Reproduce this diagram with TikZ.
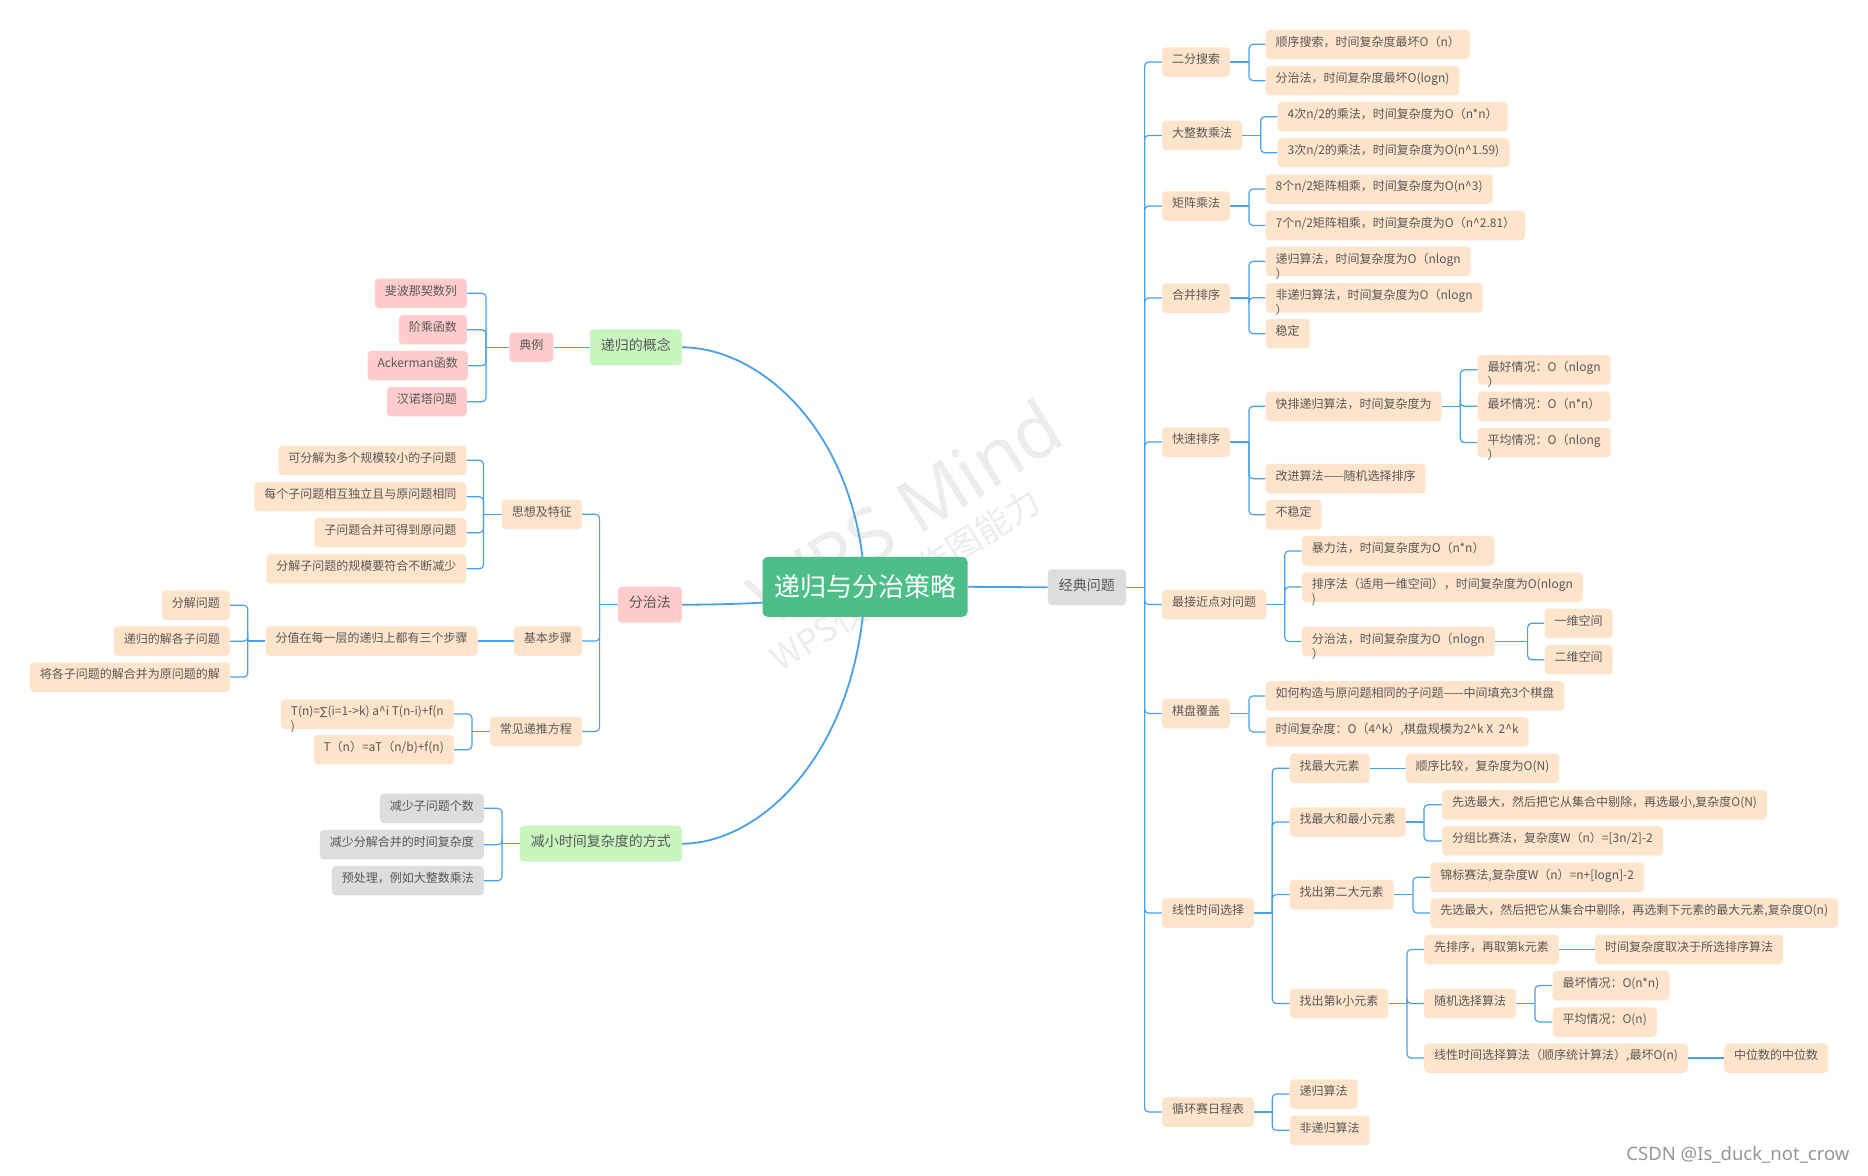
\documentclass[tikz,border=0pt]{standalone}
\usepackage{fontspec}
\newfontfamily\cjk{Noto Sans CJK SC}
\newfontfamily\wmfont{Noto Sans}
\newfontfamily\djv{DejaVu Sans}
\usetikzlibrary{calc,backgrounds}
\definecolor{peach}{RGB}{255,228,204}
\definecolor{pinkb}{RGB}{255,204,204}
\definecolor{greenb}{RGB}{200,246,190}
\definecolor{grayb}{RGB}{221,221,221}
\definecolor{rootg}{RGB}{77,190,135}
\definecolor{txt}{RGB}{88,88,88}
\definecolor{lblue}{RGB}{74,160,230}
\definecolor{wmc}{RGB}{236,236,236}
\definecolor{csdnc}{RGB}{150,150,150}
\newcommand\crt{\textasciicircum}
\newcommand\clp[1]{\smash{\rlap{\raisebox{-15pt}{#1}}}}
\newcommand\brR[3]{%
  \draw[br] (#1.east) -- (#2 |- #1.east);
  \foreach \kid in {#3}{\draw[br,rounded corners=4pt] (#2 |- #1.east) -- (#2 |- \kid.west) -- (\kid.west);}}
\newcommand\brL[3]{%
  \draw[br] (#1.west) -- (#2 |- #1.west);
  \foreach \kid in {#3}{\draw[br,rounded corners=4pt] (#2 |- #1.west) -- (#2 |- \kid.east) -- (\kid.east);}}
\tikzset{
  box/.style={rectangle, rounded corners=4pt, text=txt, font=\cjk\fontsize{12}{14}\selectfont,
    inner xsep=10pt, inner ysep=7.65pt, text height=9pt, text depth=5.2pt},
  pk/.style={box, fill=peach},
  pn/.style={box, fill=pinkb},
  gy/.style={box, fill=grayb},
  main/.style={box, font=\cjk\fontsize{14}{16}\selectfont, inner xsep=11pt, inner ysep=10.75pt,
    text height=10.5pt, text depth=4pt},
  rootbox/.style={rectangle, rounded corners=5pt, fill=rootg, text=white,
    font=\cjk\fontsize{26}{28}\selectfont, minimum width=205pt, minimum height=60pt, inner sep=0pt},
  br/.style={draw=lblue, line width=1.2pt},
  mline/.style={draw=lblue, line width=1.8pt},
}
\begin{document}
\begin{tikzpicture}[x=1pt,y=-1pt]
\useasboundingbox (0,0) rectangle (1868,1175);

% root
\node[rootbox] (root) at (865,586.8) {递归与分治策略};

% ---------- left side ----------
\node[main, fill=greenb, anchor=east] (l1) at (682,347.3) {递归的概念};
\node[main, fill=pinkb, anchor=east] (l2) at (682,604.7) {分治法};
\node[main, fill=greenb, anchor=east] (l3) at (682,843.7) {减小时间复杂度的方式};

\node[pn, anchor=east] (l1a) at (553.6,347.3) {典例};
\node[pn, anchor=east] (l1a1) at (467,293.3) {斐波那契数列};
\node[pn, anchor=east] (l1a2) at (467,329.7) {阶乘函数};
\node[pn, anchor=east] (l1a3) at (468,365.7) {Ackerman函数};
\node[pn, anchor=east] (l1a4) at (467,401.7) {汉诺塔问题};

\node[pk, anchor=east] (l2a) at (582,514.3) {思想及特征};
\node[pk, anchor=east] (l2a1) at (466.5,460.3) {可分解为多个规模较小的子问题};
\node[pk, anchor=east] (l2a2) at (466.5,496.7) {每个子问题相互独立且与原问题相同};
\node[pk, anchor=east] (l2a3) at (466.5,532.7) {子问题合并可得到原问题};
\node[pk, anchor=east] (l2a4) at (466.5,568.8) {分解子问题的规模要符合不断减少};

\node[pk, anchor=east] (l2b) at (582,641) {基本步骤};
\node[pk, anchor=east] (l2b1) at (477.7,641) {分值在每一层的递归上都有三个步骤};
\node[pk, anchor=east] (l2b1a) at (230,605.2) {分解问题};
\node[pk, anchor=east] (l2b1b) at (230,641.2) {递归的解各子问题};
\node[pk, anchor=east] (l2b1c) at (230,677) {将各子问题的解合并为原问题的解};

\node[pk, anchor=east] (l2c) at (582,731.5) {常见递推方程};
\node[pk, anchor=east] (l2c1) at (454,714) {\clp{)}T(n)={\djv\fontsize{11}{13}\selectfont ∑}(i=1->k) a\crt i T(n-i)+f(n};
\node[pk, anchor=east] (l2c2) at (454,749.7) {T（n）=aT（n/b)+f(n)};

\node[gy, anchor=east] (l3a) at (484,808.3) {减少子问题个数};
\node[gy, anchor=east] (l3b) at (484,844.7) {减少分解合并的时间复杂度};
\node[gy, anchor=east] (l3c) at (484,880.7) {预处理，例如大整数乘法};

% ---------- right side ----------
\node[main, fill=grayb, anchor=west] (r0) at (1047.7,587.3) {经典问题};
\node[pk,anchor=west] (r1) at (1161.8,62) {二分搜索};
\node[pk,anchor=west] (r2) at (1161.8,135.4) {大整数乘法};
\node[pk,anchor=west] (r3) at (1161.8,206) {矩阵乘法};
\node[pk,anchor=west] (r4) at (1161.8,298) {合并排序};
\node[pk,anchor=west] (r5) at (1161.8,442) {快速排序};
\node[pk,anchor=west] (r6) at (1161.8,604.5) {最接近点对问题};
\node[pk,anchor=west] (r7) at (1161.8,713.5) {棋盘覆盖};
\node[pk,anchor=west] (r8) at (1161.8,913) {线性时间选择};
\node[pk,anchor=west] (r9) at (1161.8,1112) {循环赛日程表};

\node[pk,anchor=west] (r1a) at (1265.4,44.3) {顺序搜索，时间复杂度最坏O（n）};
\node[pk,anchor=west] (r1b) at (1265.4,80.7) {分治法，时间复杂度最坏O(logn)};
\node[pk,anchor=west] (r2a) at (1277.4,116.7) {4次n/2的乘法，时间复杂度为O（n*n）};
\node[pk,anchor=west] (r2b) at (1277.4,152.7) {3次n/2的乘法，时间复杂度为O(n\crt 1.59)};
\node[pk,anchor=west] (r3a) at (1265.4,189) {8个n/2矩阵相乘，时间复杂度为O(n\crt 3)};
\node[pk,anchor=west] (r3b) at (1265.4,225.5) {7个n/2矩阵相乘，时间复杂度为O（n\crt 2.81）};
\node[pk,anchor=west] (r4a) at (1265.4,261.3) {\clp{）}递归算法，时间复杂度为O（nlogn};
\node[pk,anchor=west] (r4b) at (1265.4,297.8) {\clp{）}非递归算法，时间复杂度为O（nlogn};
\node[pk,anchor=west] (r4c) at (1265.4,333.7) {稳定};
\node[pk,anchor=west] (r5a) at (1265.4,406.3) {快排递归算法，时间复杂度为};
\node[pk,anchor=west] (r5b) at (1265.4,478.7) {改进算法——随机选择排序};
\node[pk,anchor=west] (r5c) at (1265.4,514.8) {不稳定};
\node[pk,anchor=west] (r5a1) at (1477.5,369.8) {\clp{）}最好情况：O（nlogn};
\node[pk,anchor=west] (r5a2) at (1477.5,406.3) {最坏情况：O（n*n）};
\node[pk,anchor=west] (r5a3) at (1477.5,442.5) {\clp{）}平均情况：O（nlong};
\node[pk,anchor=west] (r6a) at (1301.6,550.9) {暴力法，时间复杂度为O（n*n）};
\node[pk,anchor=west] (r6b) at (1301.6,587) {\clp{)}排序法（适用一维空间），时间复杂度为O(nlogn};
\node[pk,anchor=west] (r6c) at (1301.6,641.5) {\clp{）}分治法，时间复杂度为O（nlogn};
\node[pk,anchor=west] (r6c1) at (1544.4,623.3) {一维空间};
\node[pk,anchor=west] (r6c2) at (1544.4,659.7) {二维空间};
\node[pk,anchor=west] (r7a) at (1265.4,695.9) {如何构造与原问题相同的子问题——中间填充3个棋盘};
\node[pk,anchor=west] (r7b) at (1265.4,731.9) {时间复杂度：O（4\crt k）,棋盘规模为2\crt k X \ 2\crt k};
\node[pk,anchor=west] (r8a) at (1289.5,768.3) {找最大元素};
\node[pk,anchor=west] (r8a1) at (1405.5,768.3) {顺序比较，复杂度为O(N)};
\node[pk,anchor=west] (r8b) at (1289.5,822) {找最大和最小元素};
\node[pk,anchor=west] (r8b1) at (1441.8,804.8) {先选最大，然后把它从集合中剔除，再选最小,复杂度O(N)};
\node[pk,anchor=west] (r8b2) at (1441.8,840.9) {分组比赛法，复杂度W（n）=[3n/2]-2};
\node[pk,anchor=west] (r8c) at (1289.5,894.5) {找出第二大元素};
\node[pk,anchor=west] (r8c1) at (1430.2,877.2) {锦标赛法,复杂度W（n）=n+[logn]-2};
\node[pk,anchor=west] (r8c2) at (1430.2,913) {先选最大，然后把它从集合中剔除，再选剩下元素的最大元素,复杂度O(n)};
\node[pk,anchor=west] (r8d) at (1289.5,1003.5) {找出第k小元素};
\node[pk,anchor=west] (r8d1) at (1424,949.5) {先排序，再取第k元素};
\node[pk,anchor=west] (r8d1a) at (1595,949.5) {时间复杂度取决于所选排序算法};
\node[pk,anchor=west] (r8d2) at (1424,1003.5) {随机选择算法};
\node[pk,anchor=west] (r8d2a) at (1552.3,985.5) {最坏情况：O(n*n)};
\node[pk,anchor=west] (r8d2b) at (1552.3,1022) {平均情况：O(n)};
\node[pk,anchor=west] (r8d3) at (1424,1058) {线性时间选择算法（顺序统计算法）,最坏O(n)};
\node[pk,anchor=west] (r8d3a) at (1724,1058) {中位数的中位数};
\node[pk,anchor=west] (r9a) at (1289.5,1094) {递归算法};
\node[pk,anchor=west] (r9b) at (1289.5,1130.3) {非递归算法};

\node[anchor=east, text=csdnc, font=\wmfont\fontsize{18.5}{20}\selectfont] (csdn) at (1853,1155) {CSDN @Is\_duck\_not\_crow};

% bracket x positions
\coordinate (bM) at (1144.6,0);
\coordinate (bA) at (1249,0);
\coordinate (bB) at (1260.7,0);
\coordinate (bQ) at (1460.3,0);
\coordinate (bP) at (1284.8,0);
\coordinate (bD) at (1527.6,0);
\coordinate (bL) at (1272.3,0);
\coordinate (bMM) at (1424,0);
\coordinate (bS) at (1413,0);
\coordinate (bK) at (1407,0);
\coordinate (bR) at (1535,0);
\coordinate (cE) at (486,0);
\coordinate (cF) at (599.6,0);
\coordinate (cT) at (483.5,0);
\coordinate (cS) at (247.8,0);
\coordinate (cR) at (471.9,0);
\coordinate (cG) at (502,0);

\begin{scope}[on background layer]
  \fill[white] (0,0) rectangle (1868,1175);
  \node[rotate=32, text=wmc, font=\wmfont\fontsize{74}{76}\selectfont] (wm1) at (905,512) {WPS Mind};
  \node[rotate=32, text=wmc, font=\cjk\fontsize{34}{36}\selectfont] (wm2) at (905,580) {WPS仅提供作图能力};

  % main curves
  \foreach \t in {l1,l2,l3}{
    \draw[mline] (root.center) .. controls ($(root.center)!0.65!(root.center |- \t.east)+(-7,0)$) and ($(\t.east)+(78,0)$) .. (\t.east);
  }
  \draw[mline] (root.east) -- (r0.west);

  % left brackets
  \draw[br] (l1.west) -- (l1a.east);
  \brL{l1a}{cE}{l1a1,l1a2,l1a3,l1a4}
  \brL{l2}{cF}{l2a,l2b,l2c}
  \brL{l2a}{cT}{l2a1,l2a2,l2a3,l2a4}
  \draw[br] (l2b.west) -- (l2b1.east);
  \brL{l2b1}{cS}{l2b1a,l2b1b,l2b1c}
  \brL{l2c}{cR}{l2c1,l2c2}
  \brL{l3}{cG}{l3a,l3b,l3c}

  % right brackets
  \brR{r0}{bM}{r1,r2,r3,r4,r5,r6,r7,r8,r9}
  \brR{r1}{bA}{r1a,r1b}
  \brR{r2}{bB}{r2a,r2b}
  \brR{r3}{bA}{r3a,r3b}
  \brR{r4}{bA}{r4a,r4b,r4c}
  \brR{r5}{bA}{r5a,r5b,r5c}
  \brR{r5a}{bQ}{r5a1,r5a2,r5a3}
  \brR{r6}{bP}{r6a,r6b,r6c}
  \brR{r6c}{bD}{r6c1,r6c2}
  \brR{r7}{bA}{r7a,r7b}
  \brR{r8}{bL}{r8a,r8b,r8c,r8d}
  \draw[br] (r8a.east) -- (r8a1.west);
  \brR{r8b}{bMM}{r8b1,r8b2}
  \brR{r8c}{bS}{r8c1,r8c2}
  \brR{r8d}{bK}{r8d1,r8d2,r8d3}
  \draw[br] (r8d1.east) -- (r8d1a.west);
  \brR{r8d2}{bR}{r8d2a,r8d2b}
  \draw[br] (r8d3.east) -- (r8d3a.west);
  \brR{r9}{bL}{r9a,r9b}
\end{scope}
\end{tikzpicture}
\end{document}
